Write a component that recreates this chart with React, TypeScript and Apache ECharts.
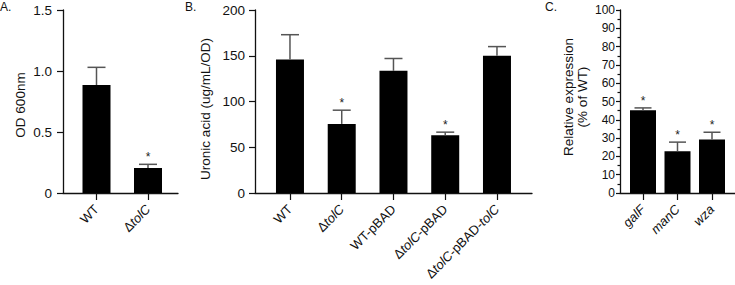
import React, { useEffect, useRef } from "react";
import * as echarts from "echarts";

const catsA = ["WT", "ΔtolC"];
const valsA = [0.885, 0.205];
const errA = [0.145, 0.03];
const sigA = [false, true];

const catsB = ["WT", "ΔtolC", "WT-pBAD", "ΔtolC-pBAD", "ΔtolC-pBAD-tolC"];
const valsB = [146, 75.5, 133.5, 63, 150];
const errB = [27, 15, 13.5, 3.5, 10];
const sigB = [false, true, false, true, false];

const catsC = ["galF", "manC", "wza"];
const valsC = [45.2, 22.8, 29.2];
const errC = [1.3, 5, 4];
const sigC = [true, true, true];

const FONT = "Liberation Sans, Arial, sans-serif";

function fmtLabel(s: string): string {
  if (s === "galF" || s === "manC" || s === "wza") return `{i|${s}}`;
  const parts = s.split("tolC");
  let out = "";
  parts.forEach((p, k) => {
    if (p) out += `{n|${p}}`;
    if (k < parts.length - 1) out += `{i|tolC}`;
  });
  return out;
}

const LFS = 13;
const rich = {
  n: { fontFamily: FONT, fontSize: LFS, color: "#111" },
  i: { fontFamily: FONT, fontSize: LFS, color: "#111", fontStyle: "italic" },
};

export default function App() {
  const ref = useRef<HTMLDivElement>(null);
  useEffect(() => {
    if (!ref.current) return;
    const chart = echarts.init(ref.current, null, { renderer: "svg" });

    const panels = [
      { outer: { left: 63, width: 115 }, inner: { left: 70.75, width: 103 }, cats: catsA, vals: valsA, err: errA, sig: sigA, min: 0, max: 1.5, interval: 0.5, barW: 28, capW: 18, labelMargin: 11, fmt: (v: number) => (v === 0 ? "0" : v.toFixed(1)), minor: false, fs: 13.5 },
      { outer: { left: 255, width: 277 }, inner: { left: 264.1, width: 258.75 }, cats: catsB, vals: valsB, err: errB, sig: sigB, min: 0, max: 200, interval: 50, barW: 28, capW: 18, labelMargin: 10, fmt: (v: number) => String(v), minor: false, fs: 13.5 },
      { outer: { left: 620, width: 115 }, inner: { left: 625.75, width: 103.5 }, cats: catsC, vals: valsC, err: errC, sig: sigC, min: 0, max: 100, interval: 10, barW: 26, capW: 17, labelMargin: 5, fmt: (v: number) => String(v), minor: true, fs: 12 },
    ];

    const grids: any[] = [];
    const xAxes: any[] = [];
    const yAxes: any[] = [];
    const series: any[] = [];

    panels.forEach((p) => {
      const top = 10;
      const height = 183;
      const gOuter = grids.length;
      grids.push({ left: p.outer.left, width: p.outer.width, top, height, containLabel: false, outerBoundsMode: "none" });
      const gInner = grids.length;
      grids.push({ left: p.inner.left, width: p.inner.width, top, height, containLabel: false, outerBoundsMode: "none" });

      xAxes.push({
        gridIndex: gOuter, type: "value", min: 0, max: 1,
        axisLine: { show: true, lineStyle: { color: "#111", width: 1.3 } },
        axisTick: { show: false }, axisLabel: { show: false }, splitLine: { show: false },
      });
      yAxes.push({
        gridIndex: gOuter, type: "value", min: p.min, max: p.max, interval: p.interval,
        axisLine: { show: true, lineStyle: { color: "#111", width: 1.3 } },
        axisTick: { show: true, length: p.minor ? 4 : 6, lineStyle: { color: "#111", width: 1.2 } },
        minorTick: { show: p.minor, splitNumber: 2, length: 2.5, lineStyle: { color: "#111", width: 1.2 } },
        axisLabel: { formatter: p.fmt, fontFamily: FONT, fontSize: p.fs, color: "#111", margin: p.labelMargin },
        splitLine: { show: false },
      });
      const xOuterIdx = xAxes.length - 1;
      const yOuterIdx = yAxes.length - 1;

      xAxes.push({
        gridIndex: gInner, type: "category", data: p.cats,
        axisLine: { show: false },
        axisTick: { show: true, alignWithLabel: true, length: 7, lineStyle: { color: "#111", width: 1.2 } },
        axisLabel: {
          rotate: 45, interval: 0, margin: 14,
          fontSize: LFS, fontFamily: FONT,
          formatter: (v: string) => fmtLabel(v),
          rich,
        },
      });
      yAxes.push({
        gridIndex: gInner, type: "value", min: p.min, max: p.max, interval: p.interval, show: false,
      });
      const xi = xAxes.length - 1;
      const yi = yAxes.length - 1;

      series.push({
        type: "bar", xAxisIndex: xi, yAxisIndex: yi, data: p.vals, barWidth: p.barW,
        itemStyle: { color: "#000" }, z: 2,
      });
      const errData = p.vals.map((v, j) => [j, v, v + p.err[j], p.sig[j] ? 1 : 0]);
      series.push({
        type: "custom", xAxisIndex: xi, yAxisIndex: yi, data: errData, z: 3,
        renderItem: (params: any, api: any) => {
          const j = api.value(0);
          const lo = api.coord([j, api.value(1)]);
          const hi = api.coord([j, api.value(2)]);
          const sig = api.value(3);
          const half = p.capW / 2;
          const children: any[] = [
            { type: "line", shape: { x1: lo[0], y1: lo[1], x2: hi[0], y2: hi[1] }, style: { stroke: "#555", lineWidth: 1.5 } },
            { type: "line", shape: { x1: hi[0] - half, y1: hi[1], x2: hi[0] + half, y2: hi[1] }, style: { stroke: "#555", lineWidth: 1.5 } },
          ];
          if (sig) {
            children.push({
              type: "text",
              style: { text: "*", x: hi[0], y: hi[1] - 1, align: "center", verticalAlign: "bottom", fontFamily: FONT, fontSize: 12, fill: "#222" },
            });
          }
          return { type: "group", children };
        },
      });
      series.push({ type: "line", xAxisIndex: xOuterIdx, yAxisIndex: yOuterIdx, data: [], silent: true });
    });

    const titleStyle = { fontFamily: FONT, fontSize: 13.5, fill: "#111" };
    chart.setOption({
      animation: false,
      grid: grids,
      xAxis: xAxes,
      yAxis: yAxes,
      series,
      graphic: [
        { type: "text", left: 0, top: 1, style: { text: "A.", fontFamily: FONT, fontSize: 12, fill: "#111" } },
        { type: "text", left: 185, top: 1, style: { text: "B.", fontFamily: FONT, fontSize: 12, fill: "#111" } },
        { type: "text", left: 545, top: 1, style: { text: "C.", fontFamily: FONT, fontSize: 12, fill: "#111" } },
        { type: "text", x: 20, y: 105, rotation: Math.PI / 2, style: { text: "OD 600nm", align: "center", verticalAlign: "middle", ...titleStyle } },
        { type: "text", x: 205, y: 109, rotation: Math.PI / 2, style: { text: "Uronic acid (ug/mL/OD)", align: "center", verticalAlign: "middle", ...titleStyle } },
        { type: "text", x: 575, y: 97, rotation: Math.PI / 2, style: { text: "Relative expression\n(% of WT)", align: "center", verticalAlign: "middle", lineHeight: 14, ...titleStyle } },
      ],
    });
    return () => chart.dispose();
  }, []);
  return <div ref={ref} style={{ position: "absolute", left: 0, top: 0, width: 735, height: 285, background: "#fff" }} />;
}
